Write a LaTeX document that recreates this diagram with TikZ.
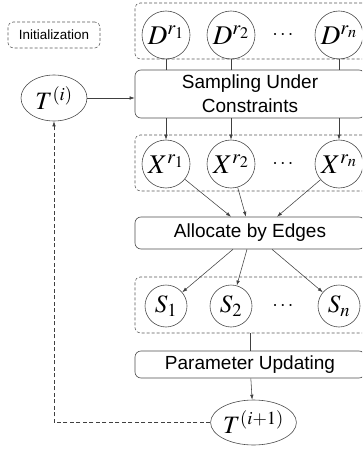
\documentclass[tikz,border=0pt]{standalone}
\usepackage{mathptmx}
\usepackage[no-math]{fontspec}
\newfontfamily\boxfont{Liberation Sans}
\usetikzlibrary{arrows.meta,positioning,shapes.geometric}

\begin{document}
\begin{tikzpicture}[x=1pt,y=-1pt,on grid,>={Latex[length=5pt,width=3.5pt]}]
  \tikzstyle{var}=[circle,draw=black!70,line width=0.6pt,minimum size=48pt,inner sep=0pt,font=\fontsize{27}{29}\selectfont]
  \tikzstyle{obs}=[var,minimum size=42pt,font=\fontsize{25}{27}\selectfont]
  \tikzstyle{param}=[ellipse,draw=black!70,line width=0.6pt,inner sep=0pt,font=\fontsize{25}{27}\selectfont]
  \tikzstyle{stepbox}=[rectangle,rounded corners=6pt,draw=black!70,line width=0.6pt,minimum width=230pt,align=center,font=\boxfont\fontsize{19}{24}\selectfont]
  \tikzstyle{group}=[rectangle,rounded corners=5pt,draw=black!65,line width=0.55pt,dash pattern=on 3pt off 2pt,minimum width=237pt,minimum height=56pt]
  \tikzstyle{dots}=[font=\fontsize{20}{22}\selectfont]
  \tikzstyle{link}=[draw=black!75,line width=0.55pt]

  \clip (0,0) rectangle (362,449);

  % legend
  \node[group,minimum width=92pt,minimum height=26pt,font=\boxfont\fontsize{13.4}{15}\selectfont] (init) at (54,35) {Initialization};

  % dashed groups
  \node[group] (d_grp) at (253.5,31)  {};
  \node[group] (x_grp) at (253.5,163) {};
  \node[group] (s_grp) at (253.5,305) {};

  % D variables
  \node[var]  (d_1) at (166,35)        {$D^{r_1}$};
  \node[var]  (d_2) [right=65pt of d_1] {$D^{r_2}$};
  \node[dots] (d_dots) [right=52pt of d_2] {$\cdots$};
  \node[var]  (d_n) [right=56pt of d_dots] {$D^{r_n}$};

  % X variables
  \node[var]  (x_1) [below=129pt of d_1] {$X^{r_1}$};
  \node[var]  (x_2) [right=65pt of x_1] {$X^{r_2}$};
  \node[dots] (x_dots) [right=52pt of x_2] {$\cdots$};
  \node[var]  (x_n) [right=56pt of x_dots] {$X^{r_n}$};

  % S variables
  \node[obs]  (s_1) [below=142pt of x_1] {$S_1$};
  \node[obs]  (s_2) [right=65pt of s_1] {$S_2$};
  \node[dots] (s_dots) [right=52pt of s_2] {$\cdots$};
  \node[obs]  (s_n) [right=56pt of s_dots] {$S_n$};

  % steps
  \node[stepbox,minimum height=48pt] (sampling) at (250,94)    {Sampling Under\\Constraints};
  \node[stepbox,minimum height=32pt] (alloc)    at (250,233)   {Allocate by Edges};
  \node[stepbox,minimum height=27pt] (update)   at (250,364.5) {Parameter Updating};

  % parameters
  \node[param,minimum width=66pt,minimum height=46pt] (t_i)  at (54,98)      {$T^{(i)}$};
  \node[param,minimum width=64pt,minimum height=45pt] (t_ip) at (253.5,422.5) {$T^{(i+1)}$};

  \draw[link] (d_1) -- (d_1 |- sampling.north);
  \draw[link] (d_2) -- (d_2 |- sampling.north);
  \draw[link] (d_n) -- (d_n |- sampling.north);
  \draw[link,->] (t_i.east) -- (t_i.east -| sampling.west);

  \draw[link,->] (sampling.south -| x_1) -- (x_1);
  \draw[link,->] (sampling.south -| x_2) -- (x_2);
  \draw[link,->] (sampling.south -| x_n) -- (x_n);

  \draw[link,->] (x_1) -- ([xshift=-19pt]alloc.north);
  \draw[link,->] (x_2) -- ([xshift=-4pt]alloc.north);
  \draw[link,->] (x_n) -- ([xshift=27pt]alloc.north);

  \draw[link,->] ([xshift=-17pt]alloc.south) -- (s_1);
  \draw[link,->] ([xshift=-3pt]alloc.south) -- (s_2);
  \draw[link,->] ([xshift=22pt]alloc.south) -- (s_n);

  \draw[link] (update.north |- s_grp.south) -- (update.north);
  \draw[link,->] (update) -- (t_ip);
  \draw[link,->,dash pattern=on 4pt off 2.5pt] (t_ip.west) -| (t_i.south);
\end{tikzpicture}
\end{document}
